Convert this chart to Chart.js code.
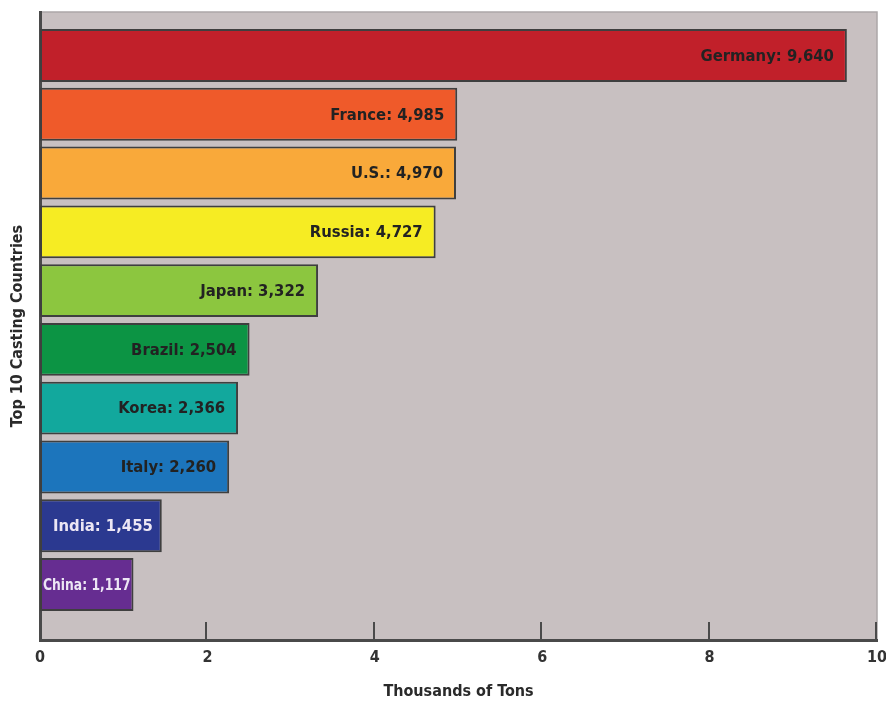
<!DOCTYPE html>
<html>
<head>
<meta charset="utf-8">
<script src="https://cdn.jsdelivr.net/npm/chart.js@4"></script>
<style>
  html, body { margin: 0; padding: 0; background: #ffffff; }
  #wrap { width: 886px; height: 701px; position: relative; }
</style>
</head>
<body>
<div id="wrap"><canvas id="myChart"></canvas></div>
<script>
// Top 10 casting countries, thousands of tons
var countries = ['Germany', 'France', 'U.S.', 'Russia', 'Japan', 'Brazil', 'Korea', 'Italy', 'India', 'China'];
var tonnage = [9640, 4985, 4970, 4727, 3322, 2504, 2366, 2260, 1455, 1117];
var barColors = ['#c1202a', '#ef5a2a', '#f9a93a', '#f6ec23', '#8cc63f', '#0c9444', '#12a89d', '#1c75bc', '#2b3990', '#662d91'];
var labelColors = ['#222222', '#222222', '#222222', '#222222', '#222222', '#222222', '#222222', '#222222', '#ece6f4', '#ece6f4'];
var xTicks = [0, 2, 4, 6, 8, 10];

var FONT = "'DejaVu Sans Condensed', 'Liberation Sans Narrow', sans-serif";

var points = tonnage.map(function(v, i) {
    return { x: v / 1000, y: i };
});

// plot background + light top/right frame
var plotBackground = {
    id: 'plotBackground',
    beforeDraw: function(chart) {
        var a = chart.chartArea, ctx = chart.ctx;
        ctx.save();
        ctx.fillStyle = '#c8c0c1';
        ctx.fillRect(a.left, a.top, a.right - a.left, a.bottom - a.top);
        ctx.strokeStyle = '#aca7a8';
        ctx.lineWidth = 1.5;
        ctx.beginPath();
        ctx.moveTo(a.left, a.top);
        ctx.lineTo(a.right, a.top);
        ctx.lineTo(a.right, a.bottom);
        ctx.stroke();
        ctx.restore();
    }
};

// tick marks drawn upward, inside the plot
var innerTicks = {
    id: 'innerTicks',
    afterDatasetsDraw: function(chart) {
        var xs = chart.scales.x, ctx = chart.ctx;
        var bottom = chart.chartArea.bottom;
        ctx.save();
        ctx.strokeStyle = '#4a4a4a';
        ctx.lineWidth = 2;
        xTicks.forEach(function(t) {
            if (t === 0) return;
            var px = Math.round(xs.getPixelForValue(t)) - 1;
            ctx.beginPath();
            ctx.moveTo(px, bottom);
            ctx.lineTo(px, bottom - 18);
            ctx.stroke();
        });
        ctx.restore();
    }
};

// "Country: value" label inside each bar, right aligned (centred / squeezed when tight)
var barLabels = {
    id: 'barLabels',
    afterDatasetsDraw: function(chart) {
        var ctx = chart.ctx;
        var meta = chart.getDatasetMeta(0);
        ctx.save();
        ctx.font = 'bold 16.5px ' + FONT;
        ctx.textBaseline = 'middle';
        meta.data.forEach(function(bar, i) {
            var text = countries[i] + ': ' + tonnage[i].toLocaleString('en-US');
            var width = bar.x - bar.base;
            var w = ctx.measureText(text).width;
            var y = bar.y + 1;
            ctx.fillStyle = labelColors[i];
            if (w + 26 <= width) {
                ctx.textAlign = 'right';
                ctx.fillText(text, bar.x - 13, y);
            } else if (w + 6 <= width) {
                ctx.textAlign = 'center';
                ctx.fillText(text, (bar.x + bar.base) / 2 + 2, y);
            } else {
                var sx = (width - 6) / w;
                ctx.save();
                ctx.translate(bar.x - 3, y);
                ctx.scale(sx, 1);
                ctx.textAlign = 'right';
                ctx.fillText(text, 0, 0);
                ctx.restore();
            }
        });
        ctx.restore();
    }
};

new Chart(document.getElementById('myChart').getContext('2d'), {
    type: 'bar',
    data: {
        datasets: [{
            data: points,
            backgroundColor: barColors,
            borderColor: '#3f3f3f',
            borderWidth: 2,
            borderSkipped: false,
            barPercentage: 0.9,
            categoryPercentage: 1.0
        }]
    },
    options: {
        indexAxis: 'y',
        responsive: true,
        maintainAspectRatio: false,
        animation: false,
        layout: { padding: { top: 12, right: 9, left: 0, bottom: 0 } },
        plugins: {
            legend: { display: false },
            tooltip: { enabled: false }
        },
        scales: {
            x: {
                type: 'linear',
                min: 0,
                max: 10,
                afterBuildTicks: function(scale) {
                    scale.ticks = xTicks.map(function(v) { return { value: v }; });
                },
                afterFit: function(scale) {
                    scale.height = 61;
                    scale.paddingLeft = 0;
                    scale.paddingRight = 0;
                },
                grid: { display: false, drawTicks: false },
                border: { display: true, color: '#4a4a4a', width: 3 },
                ticks: {
                    padding: 8,
                    color: '#333333',
                    font: { family: FONT, size: 16, weight: 'bold' }
                },
                title: {
                    display: true,
                    text: 'Thousands of Tons',
                    color: '#2a2a2a',
                    padding: { top: 0, bottom: 0 },
                    font: { family: FONT, size: 16, weight: 'bold' }
                }
            },
            y: {
                type: 'linear',
                reverse: true,
                offset: false,
                min: -0.74,
                max: 9.944,
                afterBuildTicks: function(scale) {
                    scale.ticks = countries.map(function(c, i) { return { value: i }; });
                },
                afterFit: function(scale) {
                    scale.width = 40;
                    scale.paddingTop = 0;
                    scale.paddingBottom = 0;
                },
                grid: { display: false, drawTicks: false },
                border: { display: true, color: '#4a4a4a', width: 3 },
                ticks: { display: false },
                title: {
                    display: true,
                    text: 'Top 10 Casting Countries',
                    color: '#2a2a2a',
                    padding: { top: 8, bottom: 0 },
                    font: { family: FONT, size: 16, weight: 'bold' }
                }
            }
        }
    },
    plugins: [plotBackground, innerTicks, barLabels]
});
</script>
</body>
</html>
